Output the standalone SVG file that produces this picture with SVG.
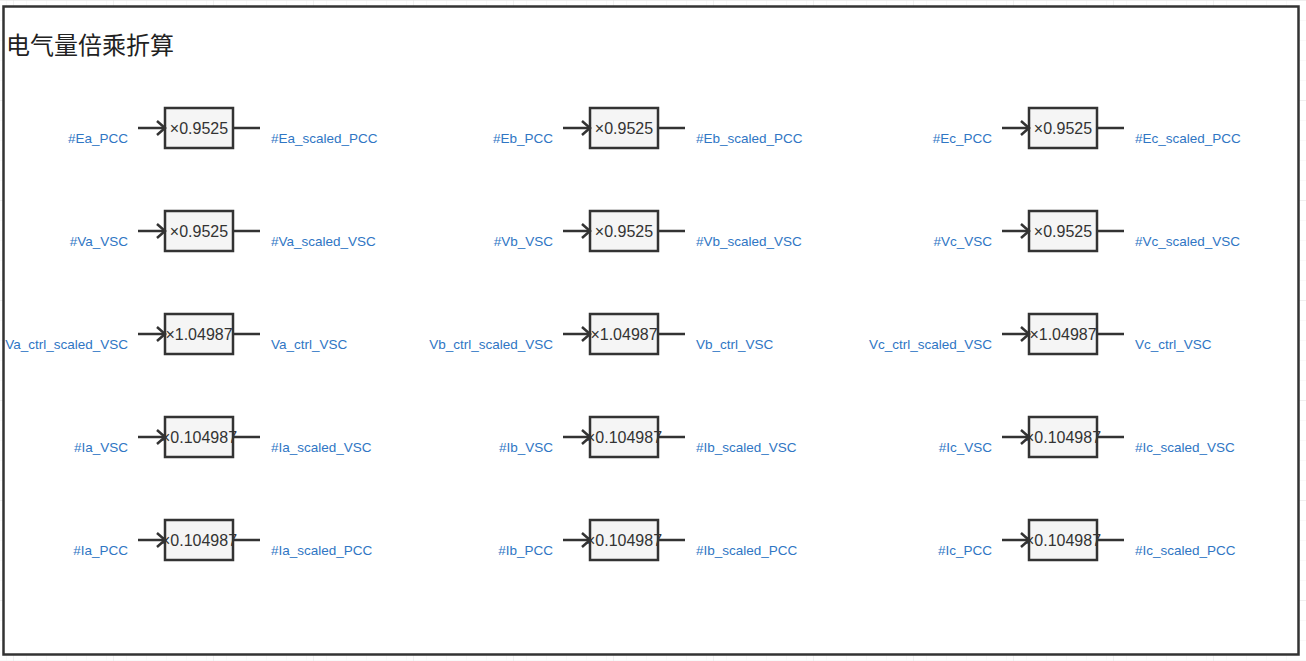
<svg xmlns="http://www.w3.org/2000/svg" width="1306" height="661" viewBox="0 0 1306 661">
  <defs>
    <pattern id="gridMinor" width="20" height="20" patternUnits="userSpaceOnUse" x="13" y="0">
      <path d="M20 0 L0 0 0 20" fill="none" stroke="#f3f3f3" stroke-width="1"/>
    </pattern>
    <pattern id="gridMajor" width="100" height="100" patternUnits="userSpaceOnUse" x="13" y="0">
      <rect width="100" height="100" fill="url(#gridMinor)"/>
      <path d="M100 0 L0 0 0 100" fill="none" stroke="#e4e4e4" stroke-width="1"/>
    </pattern>
    <marker id="arrow" markerUnits="userSpaceOnUse" markerWidth="20" markerHeight="20" viewBox="-10 -10 20 20" refX="0" refY="0" orient="auto">
      <path d="M-8,-7 L0,0 L-8,7" fill="none" stroke="#333" stroke-width="2.5" stroke-linejoin="miter"/>
    </marker>
    <style>
      .blk rect { fill: #f5f5f5; stroke: #333; stroke-width: 2.5; }
      .blk text { font-family: "Liberation Sans", Arial, sans-serif; font-size: 16px; fill: #333; text-anchor: middle; }
      .lbl { font-family: "Liberation Sans", Arial, sans-serif; font-size: 13.5px; fill: #2f76c4; }
      .in { text-anchor: end; }
      .out { text-anchor: start; }
      .conn line { stroke: #333; stroke-width: 2.5; }
      .title { font-family: "Noto Sans CJK SC", "Noto Sans", sans-serif; font-size: 24px; fill: #222; }
    </style>
  </defs>

  <rect width="1306" height="661" fill="#ffffff"/>
  <rect width="1306" height="661" fill="url(#gridMajor)"/>

  <g id="frame">
    <rect x="3.5" y="6.5" width="1295" height="648" fill="#ffffff" stroke="#333" stroke-width="2.5"/>
    <text class="title" x="6" y="54">电气量倍乘折算</text>
  </g>

  <!-- Column A -->
  <g id="gain_Ea" class="blk"><rect x="165" y="108" width="68" height="40"/><text x="199" y="134">×0.9525</text></g>
  <g id="gain_Va" class="blk"><rect x="165" y="211" width="68" height="40"/><text x="199" y="237">×0.9525</text></g>
  <g id="gain_Va_ctrl" class="blk"><rect x="165" y="314" width="68" height="40"/><text x="199" y="340">×1.04987</text></g>
  <g id="gain_Ia_VSC" class="blk"><rect x="165" y="417" width="68" height="40"/><text x="199" y="443">×0.104987</text></g>
  <g id="gain_Ia_PCC" class="blk"><rect x="165" y="520" width="68" height="40"/><text x="199" y="546">×0.104987</text></g>

  <!-- Column B -->
  <g id="gain_Eb" class="blk"><rect x="590" y="108" width="68" height="40"/><text x="624" y="134">×0.9525</text></g>
  <g id="gain_Vb" class="blk"><rect x="590" y="211" width="68" height="40"/><text x="624" y="237">×0.9525</text></g>
  <g id="gain_Vb_ctrl" class="blk"><rect x="590" y="314" width="68" height="40"/><text x="624" y="340">×1.04987</text></g>
  <g id="gain_Ib_VSC" class="blk"><rect x="590" y="417" width="68" height="40"/><text x="624" y="443">×0.104987</text></g>
  <g id="gain_Ib_PCC" class="blk"><rect x="590" y="520" width="68" height="40"/><text x="624" y="546">×0.104987</text></g>

  <!-- Column C -->
  <g id="gain_Ec" class="blk"><rect x="1029" y="108" width="68" height="40"/><text x="1063" y="134">×0.9525</text></g>
  <g id="gain_Vc" class="blk"><rect x="1029" y="211" width="68" height="40"/><text x="1063" y="237">×0.9525</text></g>
  <g id="gain_Vc_ctrl" class="blk"><rect x="1029" y="314" width="68" height="40"/><text x="1063" y="340">×1.04987</text></g>
  <g id="gain_Ic_VSC" class="blk"><rect x="1029" y="417" width="68" height="40"/><text x="1063" y="443">×0.104987</text></g>
  <g id="gain_Ic_PCC" class="blk"><rect x="1029" y="520" width="68" height="40"/><text x="1063" y="546">×0.104987</text></g>

  <!-- Signal labels -->
  <g id="labels_A">
    <text class="lbl in" x="128" y="143">#Ea_PCC</text><text class="lbl out" x="271" y="143">#Ea_scaled_PCC</text>
    <text class="lbl in" x="128" y="246">#Va_VSC</text><text class="lbl out" x="271" y="246">#Va_scaled_VSC</text>
    <text class="lbl in" x="128" y="349">Va_ctrl_scaled_VSC</text><text class="lbl out" x="271" y="349">Va_ctrl_VSC</text>
    <text class="lbl in" x="128" y="452">#Ia_VSC</text><text class="lbl out" x="271" y="452">#Ia_scaled_VSC</text>
    <text class="lbl in" x="128" y="555">#Ia_PCC</text><text class="lbl out" x="271" y="555">#Ia_scaled_PCC</text>
  </g>
  <g id="labels_B">
    <text class="lbl in" x="553" y="143">#Eb_PCC</text><text class="lbl out" x="696" y="143">#Eb_scaled_PCC</text>
    <text class="lbl in" x="553" y="246">#Vb_VSC</text><text class="lbl out" x="696" y="246">#Vb_scaled_VSC</text>
    <text class="lbl in" x="553" y="349">Vb_ctrl_scaled_VSC</text><text class="lbl out" x="696" y="349">Vb_ctrl_VSC</text>
    <text class="lbl in" x="553" y="452">#Ib_VSC</text><text class="lbl out" x="696" y="452">#Ib_scaled_VSC</text>
    <text class="lbl in" x="553" y="555">#Ib_PCC</text><text class="lbl out" x="696" y="555">#Ib_scaled_PCC</text>
  </g>
  <g id="labels_C">
    <text class="lbl in" x="992" y="143">#Ec_PCC</text><text class="lbl out" x="1135" y="143">#Ec_scaled_PCC</text>
    <text class="lbl in" x="992" y="246">#Vc_VSC</text><text class="lbl out" x="1135" y="246">#Vc_scaled_VSC</text>
    <text class="lbl in" x="992" y="349">Vc_ctrl_scaled_VSC</text><text class="lbl out" x="1135" y="349">Vc_ctrl_VSC</text>
    <text class="lbl in" x="992" y="452">#Ic_VSC</text><text class="lbl out" x="1135" y="452">#Ic_scaled_VSC</text>
    <text class="lbl in" x="992" y="555">#Ic_PCC</text><text class="lbl out" x="1135" y="555">#Ic_scaled_PCC</text>
  </g>

  <!-- Connectors -->
  <g id="connectors" class="conn">
    <line x1="138" y1="128" x2="165" y2="128" marker-end="url(#arrow)"/><line x1="233" y1="128" x2="260" y2="128"/>
    <line x1="138" y1="231" x2="165" y2="231" marker-end="url(#arrow)"/><line x1="233" y1="231" x2="260" y2="231"/>
    <line x1="138" y1="334" x2="165" y2="334" marker-end="url(#arrow)"/><line x1="233" y1="334" x2="260" y2="334"/>
    <line x1="138" y1="437" x2="165" y2="437" marker-end="url(#arrow)"/><line x1="233" y1="437" x2="260" y2="437"/>
    <line x1="138" y1="540" x2="165" y2="540" marker-end="url(#arrow)"/><line x1="233" y1="540" x2="260" y2="540"/>

    <line x1="563" y1="128" x2="590" y2="128" marker-end="url(#arrow)"/><line x1="658" y1="128" x2="685" y2="128"/>
    <line x1="563" y1="231" x2="590" y2="231" marker-end="url(#arrow)"/><line x1="658" y1="231" x2="685" y2="231"/>
    <line x1="563" y1="334" x2="590" y2="334" marker-end="url(#arrow)"/><line x1="658" y1="334" x2="685" y2="334"/>
    <line x1="563" y1="437" x2="590" y2="437" marker-end="url(#arrow)"/><line x1="658" y1="437" x2="685" y2="437"/>
    <line x1="563" y1="540" x2="590" y2="540" marker-end="url(#arrow)"/><line x1="658" y1="540" x2="685" y2="540"/>

    <line x1="1002" y1="128" x2="1029" y2="128" marker-end="url(#arrow)"/><line x1="1097" y1="128" x2="1124" y2="128"/>
    <line x1="1002" y1="231" x2="1029" y2="231" marker-end="url(#arrow)"/><line x1="1097" y1="231" x2="1124" y2="231"/>
    <line x1="1002" y1="334" x2="1029" y2="334" marker-end="url(#arrow)"/><line x1="1097" y1="334" x2="1124" y2="334"/>
    <line x1="1002" y1="437" x2="1029" y2="437" marker-end="url(#arrow)"/><line x1="1097" y1="437" x2="1124" y2="437"/>
    <line x1="1002" y1="540" x2="1029" y2="540" marker-end="url(#arrow)"/><line x1="1097" y1="540" x2="1124" y2="540"/>
  </g>
</svg>
